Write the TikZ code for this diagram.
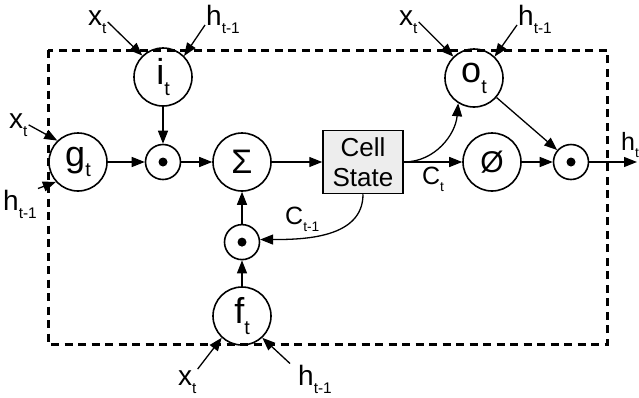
\documentclass[tikz,border=0pt]{standalone}
\usepackage{graphicx}
\usepackage{fontspec}
\setmainfont{Liberation Sans}
\usetikzlibrary{arrows.meta,positioning}
\newcommand{\tsub}[1]{\raisebox{-.3em}{\scalebox{.55}{#1}}}

\begin{document}
\begin{tikzpicture}
  [x=1pt,y=-1pt,
  gate/.style={circle,draw,line width=1.6pt,inner sep=0pt,minimum size=58pt,
               font=\fontsize{36}{36}\selectfont},
  mult/.style={circle,draw,line width=1.6pt,inner sep=0pt,minimum size=35pt,
               path picture={\fill (path picture bounding box.center) circle (4.5pt);}},
  cellbox/.style={rectangle,draw,line width=1.5pt,fill=black!7,inner sep=0pt,
                  minimum width=80pt,minimum height=63pt,align=center,
                  font=\fontsize{26}{30}\selectfont},
  lbl/.style={inner sep=1pt,font=\fontsize{28}{28}\selectfont},
  clbl/.style={inner sep=1pt,font=\fontsize{25}{25}\selectfont},
  arr/.style={-{Triangle[length=13pt,width=10pt]},line width=1.3pt},
  frame/.style={line width=3pt,dash pattern=on 8pt off 5.5pt}]
  \useasboundingbox (0,0) rectangle (639,397);
  \draw[frame] (48,50) rectangle (607,344);

  \node[gate]    (g)    at (78,162)  {g\tsub{t}};
  \node[gate]    (i)    at (163,77)  {i\tsub{t}};
  \node[mult]    (mi)   at (163,162) {};
  \node[gate,font=\fontsize{34}{34}\selectfont]
                 (sum)  at (242,162) {Σ};
  \node[cellbox] (cell) at (363,162) {Cell\\State};
  \node[gate]    (o)    at (474,78)  {o\tsub{t}};
  \node[gate,font=\fontsize{30}{30}\selectfont]
                 (tanh) at (492,162) {Ø};
  \node[mult]    (mo)   at (571,162) {};
  \node[mult]    (mf)   [below=32pt of sum] {};
  \node[gate]    (f)    at (242,316) {f\tsub{t}};
  \coordinate    (hend) at (637,162);

  \node[lbl,anchor=base west]  (xi)  at (87,25)   {x\tsub{t}};
  \node[lbl,anchor=base west]  (hi)  at (205,25)  {h\tsub{t-1}};
  \node[lbl,anchor=base west]  (xg)  at (8,128)   {x\tsub{t}};
  \node[lbl,anchor=base west]  (hg)  at (2,210)   {h\tsub{t-1}};
  \node[lbl,anchor=base west]  (xo)  at (398,25)  {x\tsub{t}};
  \node[lbl,anchor=base west]  (ho)  at (517,25)  {h\tsub{t-1}};
  \node[lbl,anchor=base west]  (xf)  at (177,385) {x\tsub{t}};
  \node[lbl,anchor=base west]  (hf)  at (297,385) {h\tsub{t-1}};
  \node[clbl,anchor=base west] (ct1) at (284,224) {C\tsub{t-1}};
  \node[clbl,anchor=base west] (ht)  at (620,150) {h\tsub{t}};

  \draw[arr] (xi.east) -- (i.134);
  \draw[arr] (hi.base west) -- (i.45);
  \draw[arr] (xg.east) -- (g.134);
  \draw[arr] (hg.north east) -- (g.-138);
  \draw[arr] (xo.east) -- (o.134);
  \draw[arr] (ho.base west) -- (o.46);
  \draw[arr] (xf.north east) -- (f.-133);
  \draw[arr] ([xshift=-7pt]hf.north west) -- (f.-47);

  \draw[arr] (i) -- (mi);
  \draw[arr] (g) -- (mi);
  \draw[arr] (mi) -- (sum);
  \draw[arr] (sum) -- (cell);
  \draw[arr] (cell) -- node[clbl,below=3pt] (ct) {C\tsub{t}} (tanh);
  \draw[arr] (cell.east) to[out=0,in=-95] (o.-122);
  \draw[arr] (o) -- (mo);
  \draw[arr] (tanh) -- (mo);
  \draw[arr] (mo) -- (hend);
  \draw[arr] (cell.south) to[out=-90,in=0] (mf.8);
  \draw[arr] (mf) -- (sum);
  \draw[arr] (f) -- (mf);
\end{tikzpicture}
\end{document}
